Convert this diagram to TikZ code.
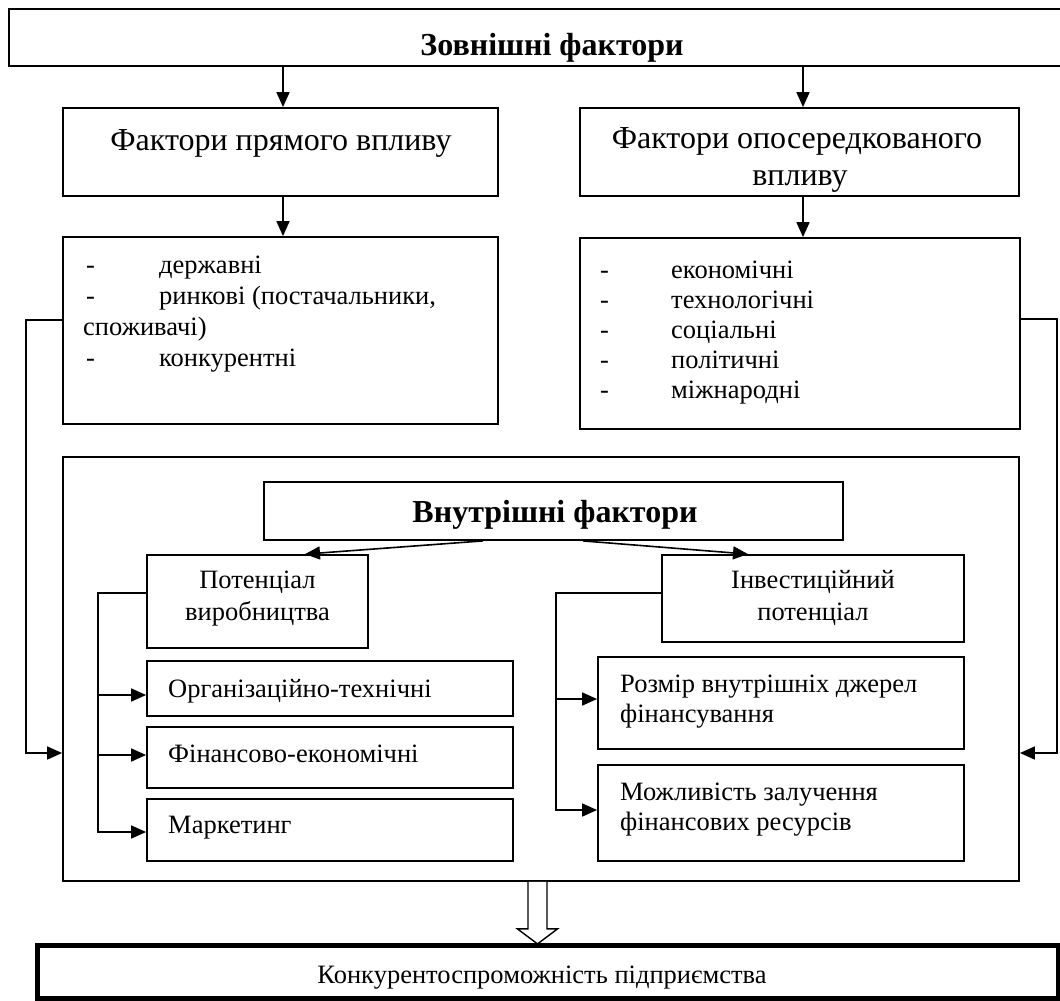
\documentclass[tikz,border=0pt]{standalone}
\usepackage{fontspec}
\setmainfont{Liberation Serif}
\usetikzlibrary{arrows.meta,calc}
\newcommand\myfz{\fontsize{26.5}{30}\selectfont}
\newcommand\myhz{\fontsize{32}{37}\selectfont}
\newcommand\mybf{\fontsize{32}{37}\selectfont\bfseries}
\begin{document}
\begin{tikzpicture}[x=1pt,y=-1pt,
  box/.style={draw, line width=1.8pt, inner sep=0pt, rectangle},
  txt/.style={inner sep=0pt, font=\myfz, anchor=base west},
  ctxt/.style={inner sep=0pt, font=\myfz, anchor=base},
  htxt/.style={inner sep=0pt, font=\myhz, anchor=base},
  arr/.style={line width=1.6pt, -{Triangle[length=15pt,width=13pt]}},
  ln/.style={line width=1.6pt}]
\useasboundingbox (0,0) rectangle (1060,1001);
\fill[white] (0,0) rectangle (1060,1001);

% boxes
\node[box, minimum width=1056pt, minimum height=57pt] (top) at (537,37.5) {};
\node[box, minimum width=435pt, minimum height=88pt] (pryam) at (280.5,152) {};
\node[box, minimum width=439pt, minimum height=88pt] (oposer) at (799.5,152) {};
\node[box, minimum width=435pt, minimum height=187pt] (list1) at (280.5,330.5) {};
\node[box, minimum width=440pt, minimum height=191pt] (list2) at (800,333.5) {};
\node[box, minimum width=956pt, minimum height=424pt] (big) at (541,669) {};
\node[box, minimum width=579pt, minimum height=58pt] (vnutr) at (553.5,511) {};
\node[box, minimum width=221pt, minimum height=93pt] (poten) at (257.5,601.5) {};
\node[box, minimum width=302pt, minimum height=87pt] (invest) at (813,598.5) {};
\node[box, minimum width=366pt, minimum height=55pt] (org) at (330,688.5) {};
\node[box, minimum width=366pt, minimum height=61pt] (fin) at (330,757.5) {};
\node[box, minimum width=366pt, minimum height=62pt] (mark) at (330,830) {};
\node[box, minimum width=366pt, minimum height=92pt] (rozmir) at (781,703) {};
\node[box, minimum width=366pt, minimum height=96pt] (mozhl) at (781,813) {};
\node[box, line width=5pt, minimum width=1021pt, minimum height=53pt] (konk) at (547.5,971.5) {};

% texts
\node[inner sep=0pt, font=\mybf, anchor=base] (toptxt) at (552,55) {Зовнішні фактори};
\node[htxt] (pryamtxt) at (281,150) {Фактори прямого впливу};
\node[htxt] (oposertxt1) at (797,148) {Фактори опосередкованого};
\node[htxt] (oposertxt2) at (800,185) {впливу};

\node[txt] (l1a) at (86,273) {\makebox[73pt][l]{-}державні};
\node[txt] (l1b) at (86,304) {\makebox[73pt][l]{-}ринкові (постачальники,};
\node[txt] (l1c) at (83,335) {споживачі)};
\node[txt] (l1d) at (86,366) {\makebox[73pt][l]{-}конкурентні};

\node[txt] (l2a) at (600,278) {\makebox[71pt][l]{-}економічні};
\node[txt] (l2b) at (600,308) {\makebox[71pt][l]{-}технологічні};
\node[txt] (l2c) at (600,338) {\makebox[71pt][l]{-}соціальні};
\node[txt] (l2d) at (600,368) {\makebox[71pt][l]{-}політичні};
\node[txt] (l2e) at (600,398) {\makebox[71pt][l]{-}міжнародні};

\node[inner sep=0pt, font=\mybf, anchor=base] (vnutrtxt) at (555,522) {Внутрішні фактори};
\node[ctxt] (potentxt1) at (257.5,588) {Потенціал};
\node[ctxt] (potentxt2) at (257.5,620) {виробництва};
\node[ctxt] (investtxt1) at (813,588) {Інвестиційний};
\node[ctxt] (investtxt2) at (813,620) {потенціал};
\node[txt] (orgtxt) at (168,697) {Організаційно-технічні};
\node[txt] (fintxt) at (168,762) {Фінансово-економічні};
\node[txt] (marktxt) at (168,833) {Маркетинг};
\node[txt] (rozmirtxt1) at (620,692) {Розмір внутрішніх джерел};
\node[txt] (rozmirtxt2) at (620,722) {фінансування};
\node[txt] (mozhltxt1) at (620,800) {Можливість залучення};
\node[txt] (mozhltxt2) at (620,830) {фінансових ресурсів};
\node[ctxt] (konktxt) at (542,983) {Конкурентоспроможність підприємства};

% connectors
\draw[arr] (top.south -| 283,0) -- (pryam.north -| 283,0);
\draw[arr] (top.south -| 803,0) -- (oposer.north -| 803,0);
\draw[arr] (pryam.south -| 283,0) -- (list1.north -| 283,0);
\draw[arr] (oposer.south -| 803,0) -- (list2.north -| 803,0);
\draw[arr] (list1.west |- 0,320) -- (26,320) -- (26,753) -- (big.west |- 0,753);
\draw[arr] (list2.east |- 0,319) -- (1057,319) -- (1057,753) -- (big.east |- 0,753);
\draw[arr] (vnutr.south -| 483,0) -- (poten.north -| 305,0);
\draw[arr] (vnutr.south -| 583,0) -- (invest.north -| 748,0);
\draw[arr] (poten.west |- 0,593) -- (98,593) -- (98,832) -- (mark.west |- 0,832);
\draw[arr] (98,695) -- (org.west |- 0,695);
\draw[arr] (98,755) -- (fin.west |- 0,755);
\draw[arr] (invest.west |- 0,593) -- (556,593) -- (556,810) -- (mozhl.west |- 0,810);
\draw[arr] (556,699) -- (rozmir.west |- 0,699);

% hollow arrow
\coordinate (ha) at (big.south -| 537.5,0);
\draw[line width=1.4pt, fill=white, line join=miter] (ha) ++(-9.5,0) -- ++(0,47) -- ++(-10.5,0) -- ++(20,15) -- ++(20,-15) -- ++(-10.5,0) -- ++(0,-47);
\end{tikzpicture}
\end{document}
